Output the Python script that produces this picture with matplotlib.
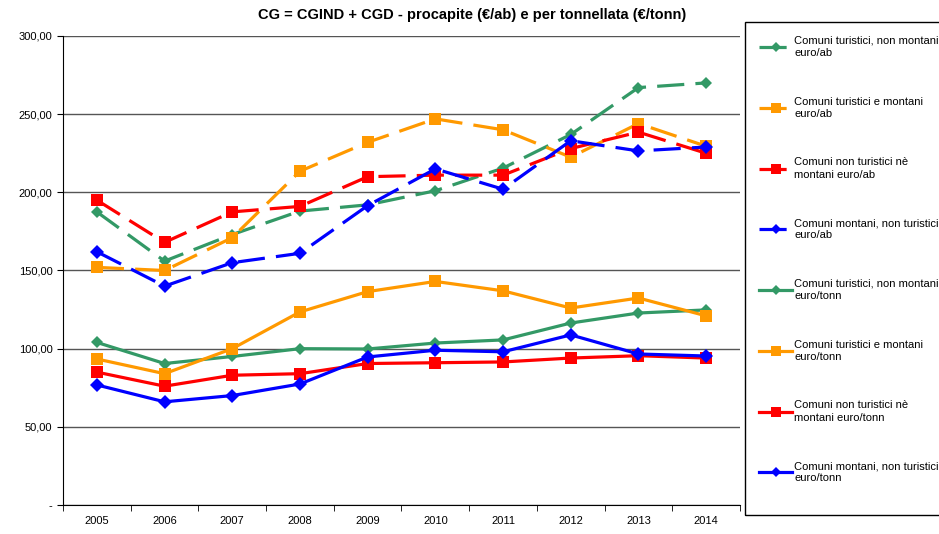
import matplotlib
matplotlib.use("Agg")
import matplotlib.pyplot as plt
from matplotlib.patches import Rectangle
from matplotlib.ticker import FuncFormatter, MultipleLocator

plt.rcParams['font.family'] = ['Liberation Sans', 'DejaVu Sans']

anni = [2005, 2006, 2007, 2008, 2009, 2010, 2011, 2012, 2013, 2014]

# euro/ab (linee tratteggiate)
tur_nonmont_ab = [187.5, 156, 173, 188, 192, 201, 215.5, 237, 267, 270]
tur_mont_ab = [152, 150, 171, 213.5, 232, 247, 240, 222.5, 244, 229.5]
nontur_nonmont_ab = [195, 168, 187.5, 191, 210, 211, 211, 228, 238.5, 225]
mont_nontur_ab = [162, 140, 155, 161, 191.5, 215, 202, 233, 226.5, 229]

# euro/tonn (linee continue)
tur_nonmont_t = [104, 90.5, 95, 100, 99.8, 103.6, 105.6, 116.4, 122.8, 124.8]
tur_mont_t = [93.4, 84, 100, 123.5, 136.5, 143, 137, 126, 132.4, 121]
nontur_nonmont_t = [85, 76, 83, 84, 90.5, 91, 91.5, 94, 95.5, 94]
mont_nontur_t = [76.8, 66, 70, 77.4, 94.7, 99, 98, 108.8, 96.6, 95.3]

etichette = [
    'Comuni turistici, non montani\neuro/ab',
    'Comuni turistici e montani\neuro/ab',
    'Comuni non turistici nè\nmontani euro/ab',
    'Comuni montani, non turistici\neuro/ab',
    'Comuni turistici, non montani\neuro/tonn',
    'Comuni turistici e montani\neuro/tonn',
    'Comuni non turistici nè\nmontani euro/tonn',
    'Comuni montani, non turistici\neuro/tonn',
]

verde = '#339966'
arancio = '#FF9900'
rosso = '#FF0000'
blu = '#0000FF'

fig = plt.figure(figsize=(9.39, 5.34), dpi=100)
ax = fig.add_axes([63 / 939, 1 - 505 / 534, 677 / 939, 469 / 534])

serie = [
    (tur_nonmont_ab, verde, 'D', 6.5, True),
    (tur_mont_ab, arancio, 's', 8.5, True),
    (nontur_nonmont_ab, rosso, 's', 8.5, True),
    (mont_nontur_ab, blu, 'D', 7, True),
    (tur_nonmont_t, verde, 'D', 6.5, False),
    (tur_mont_t, arancio, 's', 8.5, False),
    (nontur_nonmont_t, rosso, 's', 8.5, False),
    (mont_nontur_t, blu, 'D', 7, False),
]

for (valori, col, mk, ms, tratt), lab in zip(serie, etichette):
    line, = ax.plot(anni, valori, color=col, marker=mk, markersize=ms, lw=2.3,
                    label=lab, markeredgewidth=0)
    if tratt:
        line.set_dashes([8.5, 3.5])

ax.set_xlim(2004.5, 2014.5)
ax.set_ylim(0, 300)
ax.yaxis.set_major_locator(MultipleLocator(50))
ax.yaxis.set_major_formatter(FuncFormatter(
    lambda v, p: '-' if v == 0 else f'{v:.2f}'.replace('.', ',')))
ax.set_xticks(anni)
ax.set_xticks([a + 0.5 for a in [2004] + anni], minor=True)
ax.tick_params(axis='x', which='major', length=0, pad=8, labelsize=8)
ax.tick_params(axis='x', which='minor', length=4, color='black')
ax.tick_params(axis='y', length=4, labelsize=8, color='black')
ax.grid(axis='y', color='#555555', lw=1)
ax.set_axisbelow(True)
for s in ['top', 'right']:
    ax.spines[s].set_visible(False)
for s in ['left', 'bottom']:
    ax.spines[s].set_color('black')

fig.text(0.503, 0.972, 'CG = CGIND + CGD - procapite (€/ab) e per tonnellata (€/tonn)',
         ha='center', va='center', fontsize=10.5, fontweight='bold')

# riquadro della legenda
fig.patches.append(Rectangle((745 / 939, 1 - 515 / 534), 200 / 939, 493 / 534,
                             transform=fig.transFigure, fill=False,
                             edgecolor='black', lw=1))

leg = fig.legend(loc='upper left', bbox_to_anchor=(745 / 939, 1 - 22 / 534),
                 borderaxespad=0, frameon=False,
                 fontsize=8, labelspacing=3.45, handlelength=3.0, handletextpad=0.2,
                 borderpad=1.25, numpoints=1, markerscale=0.8)
for t in leg.get_texts():
    t.set_linespacing(1.3)

fig.savefig('out.png', dpi=100)
